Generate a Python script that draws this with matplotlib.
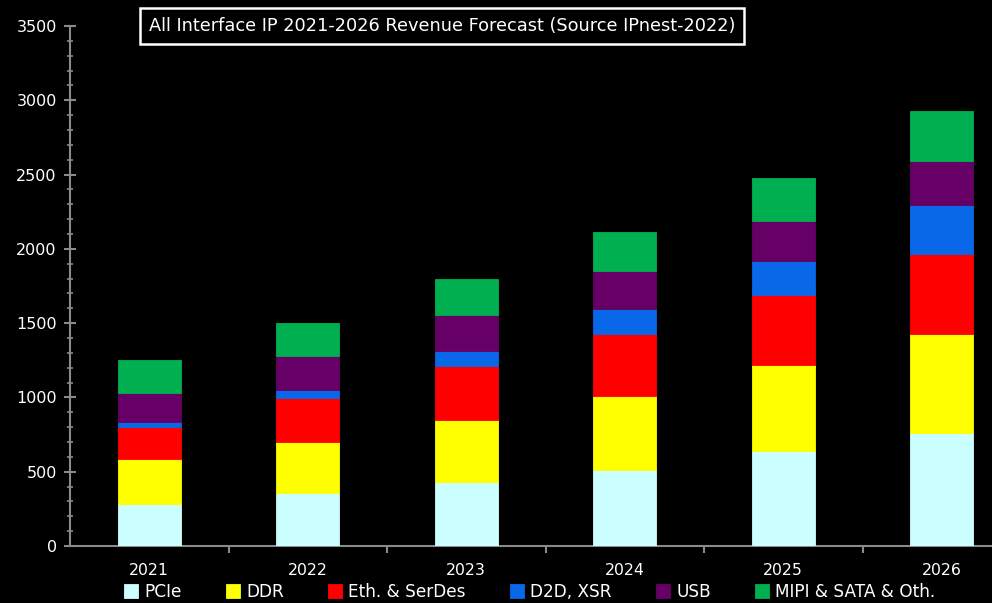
import numpy as np
import matplotlib
matplotlib.use("Agg")
import matplotlib.pyplot as plt
from matplotlib.ticker import MultipleLocator, FixedLocator

# data (revenue, stacked)
YEARS = ["2021", "2022", "2023", "2024", "2025", "2026"]
PCIE = [285, 357, 431, 514, 641, 761]
DDR = [299, 343, 415, 496, 575, 668]
ETH_SERDES = [217, 298, 366, 419, 471, 539]
D2D_XSR = [36, 54, 101, 164, 229, 325]
USB = [193, 229, 240, 256, 270, 296]
MIPI_SATA = [220, 220, 244, 262, 291, 337]

SERIES = [
    ("PCIe", PCIE, "#ccffff"),
    ("DDR", DDR, "#ffff00"),
    ("Eth. & SerDes", ETH_SERDES, "#ff0000"),
    ("D2D, XSR", D2D_XSR, "#0868e8"),
    ("USB", USB, "#660066"),
    ("MIPI & SATA & Oth.", MIPI_SATA, "#00b050"),
]
TITLE = "All Interface IP 2021-2026 Revenue Forecast (Source IPnest-2022)"

plt.rcParams["font.family"] = ["DejaVu Sans"]

fig = plt.figure(figsize=(9.92, 6.03), dpi=100, facecolor="black")
ax = fig.add_axes([70 / 992, 57 / 603, 951 / 992, 520 / 603])
ax.set_facecolor("black")

x = np.arange(len(YEARS))
bottom = np.zeros(len(YEARS))
for name, vals, col in SERIES:
    vals = np.array(vals, dtype=float)
    ax.bar(x, vals, width=0.4, bottom=bottom, color=col, label=name,
           edgecolor=col, linewidth=0.6, zorder=3)
    bottom += vals

ax.set_xlim(-0.5, len(YEARS) - 0.5)
ax.set_ylim(0, 3500)

for side in ["top", "right"]:
    ax.spines[side].set_visible(False)
for side in ["left", "bottom"]:
    ax.spines[side].set_color("#8a8a8a")
    ax.spines[side].set_linewidth(1.5)

ax.yaxis.set_major_locator(MultipleLocator(500))
ax.yaxis.set_minor_locator(MultipleLocator(100))
ax.tick_params(axis="y", which="major", direction="inout", length=9, width=1.5,
               colors="#8a8a8a", labelcolor="white", labelsize=11.5, pad=5)
ax.tick_params(axis="y", which="minor", direction="inout", length=5, width=1.2,
               colors="#8a8a8a")

ax.set_xticks(x)
ax.set_xticklabels(YEARS)
ax.xaxis.set_minor_locator(FixedLocator(x[:-1] + 0.5))
ax.tick_params(axis="x", which="major", length=0, labelcolor="white",
               labelsize=11.3, pad=12)
ax.tick_params(axis="x", which="minor", direction="out", length=5, width=1.5,
               colors="#8a8a8a")

fig.text(442 / 992, 1 - 26 / 603, TITLE, color="white", fontsize=12.8,
         ha="center", va="center",
         bbox=dict(boxstyle="square,pad=0.5", facecolor="black",
                   edgecolor="white", linewidth=1.8))

leg = fig.legend(loc="center left", bbox_to_anchor=(124 / 992, 1 - 592 / 603),
                 ncol=6, frameon=False, fontsize=12.2, handlelength=0.85,
                 handleheight=0.85, handletextpad=0.35, columnspacing=2.6,
                 borderaxespad=0, borderpad=0)
for t in leg.get_texts():
    t.set_color("white")

fig.savefig("out.png", dpi=100, facecolor="black")
